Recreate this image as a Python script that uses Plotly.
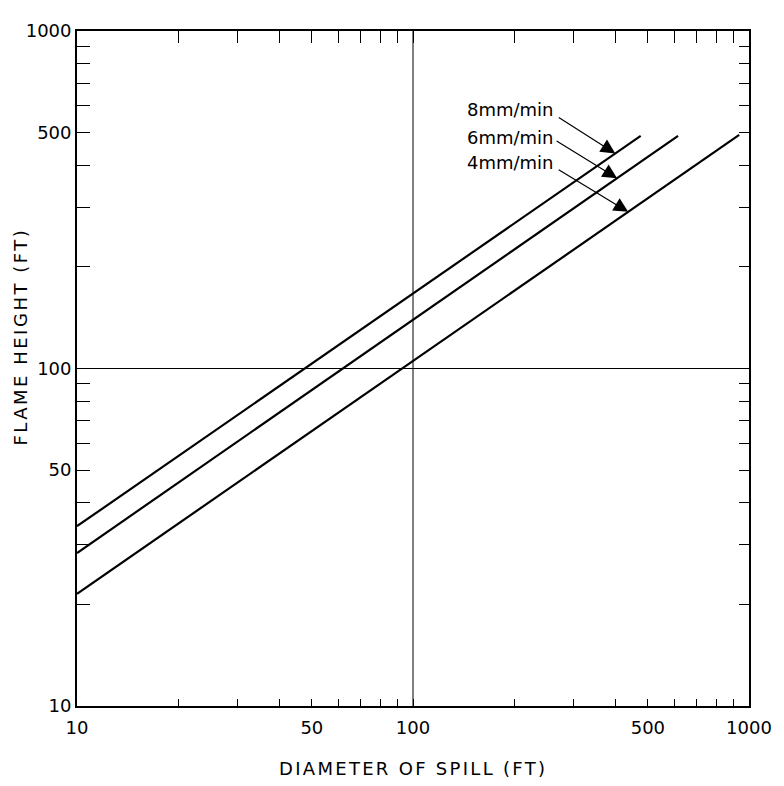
import numpy as np
import plotly.graph_objects as go

# ---- data ----
series_names = ["8mm/min", "6mm/min", "4mm/min"]
diam_8 = [10, 476]
height_8 = [34.1, 489]
diam_6 = [10, 615]
height_6 = [28.4, 489]
diam_4 = [10, 935]
height_4 = [21.5, 492]
arrow_tip_x = [400, 405, 437]   # diameter where each label arrow touches its line

tick_vals = [10, 20, 30, 40, 50, 60, 70, 80, 90, 100, 200, 300, 400, 500,
             600, 700, 800, 900, 1000]
tick_text = ["10", "", "", "", "50", "", "", "", "", "100", "", "", "", "500",
             "", "", "", "", "1000"]

series = [(diam_8, height_8), (diam_6, height_6), (diam_4, height_4)]

FONT = "DejaVu Sans"
fig = go.Figure()

# grid lines at 100 (only ones drawn)
fig.add_trace(go.Scatter(x=[100, 100], y=[10, 1000], mode="lines",
                         line=dict(color="black", width=1), hoverinfo="skip",
                         showlegend=False))
fig.add_trace(go.Scatter(x=[10, 1000], y=[100, 100], mode="lines",
                         line=dict(color="black", width=1), hoverinfo="skip",
                         showlegend=False))

for name, (xs, ys) in zip(series_names, series):
    fig.add_trace(go.Scatter(x=xs, y=ys, mode="lines", name=name,
                             line=dict(color="black", width=2.2),
                             showlegend=False))

# invisible trace to hold the mirrored (top/right) axes
fig.add_trace(go.Scatter(x=[10, 1000], y=[10, 1000], xaxis="x2", yaxis="y2",
                         mode="lines", line=dict(width=0), opacity=0,
                         hoverinfo="skip", showlegend=False))

def interp_log(xs, ys, xq):
    lx = np.log10(xs); ly = np.log10(ys)
    return float(10 ** np.interp(np.log10(xq), lx, ly))

offsets = [(-58, -37), (-62, -38), (-71, -43)]
annotations = []
for (xs, ys), tx, (ax, ay) in zip(series, arrow_tip_x, offsets):
    ty = interp_log(xs, ys, tx)
    annotations.append(dict(x=np.log10(tx), y=np.log10(ty), xref="x", yref="y",
                            text="", showarrow=True, ax=ax, ay=ay,
                            arrowhead=2, arrowsize=2.4, arrowwidth=1.2,
                            arrowcolor="black", standoff=0))

# page body adds an 8px offset; plot area spans x 77..755, y 20..706 on screen
OFF = 8
W, H = 776, 778
L, R, T, B = 77 - OFF, 29, 20 - OFF, 80
pw, ph = W - L - R, H - T - B

def px(xs):  # screen x -> paper
    return (xs - 77) / pw

def py(ys):  # screen y -> paper
    return (706 - ys) / ph

text_y = [100, 128, 154]
for name, yy in zip(series_names, text_y):
    annotations.append(dict(x=px(560), y=py(yy), xref="paper",
                            yref="paper", xanchor="right", yanchor="middle",
                            text=name, showarrow=False,
                            font=dict(family=FONT, size=18, color="black")))

annotations.append(dict(x=0.5, y=py(770), xref="paper", yref="paper",
                        text='<span style="letter-spacing:2.3px">DIAMETER OF SPILL (FT)</span>',
                        showarrow=False, xanchor="center", yanchor="middle",
                        font=dict(family=FONT, size=18, color="black")))
annotations.append(dict(x=px(20), y=py(331), xref="paper",
                        yref="paper", textangle=-90,
                        text='<span style="letter-spacing:2.5px">FLAME HEIGHT (FT)</span>',
                        showarrow=False, xanchor="center", yanchor="middle",
                        font=dict(family=FONT, size=18, color="black")))

axis_common = dict(type="log", range=[1, 3], tickmode="array",
                   tickvals=tick_vals, showgrid=False, zeroline=False,
                   showline=True, linecolor="black", linewidth=1.8,
                   ticks="inside", tickcolor="black", tickwidth=1.2)

fig.update_layout(
    width=W, height=H,
    margin=dict(l=L, r=R, t=T, b=B),
    paper_bgcolor="white", plot_bgcolor="white",
    font=dict(family=FONT, size=18, color="black"),
    xaxis=dict(**axis_common, ticktext=tick_text, ticklen=7,
               ticklabelstandoff=4,
               tickfont=dict(family=FONT, size=18, color="black")),
    yaxis=dict(**axis_common, ticktext=tick_text, ticklen=13,
               tickfont=dict(family=FONT, size=18, color="black")),
    xaxis2=dict(**axis_common, overlaying="x", side="top", anchor="y2",
                showticklabels=False, ticklen=12),
    yaxis2=dict(**axis_common, overlaying="y", side="right", anchor="x2",
                showticklabels=False, ticklen=10),
    annotations=annotations,
    showlegend=False,
)

fig.write_html("out.html")
